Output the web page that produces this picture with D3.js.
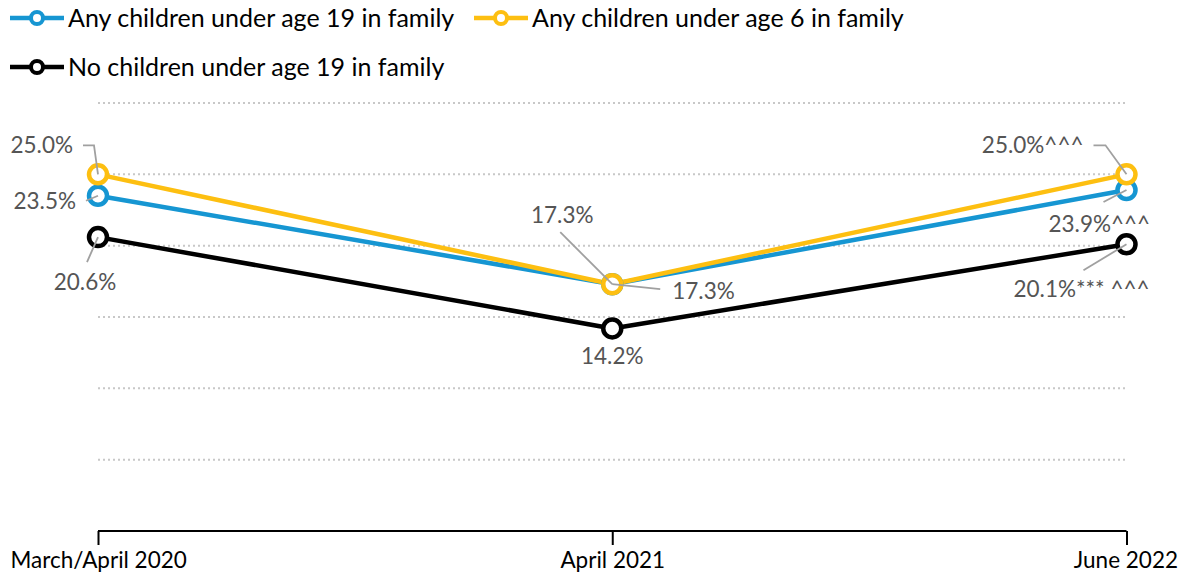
<!DOCTYPE html>
<html><head><meta charset="utf-8">
<script src="https://cdn.jsdelivr.net/npm/d3@7"></script>
<style>
body{margin:0;background:#fff;}
svg{display:block;font-family:Lato,"Noto Sans",sans-serif;}
</style></head>
<body>
<svg id="chart" width="1183" height="576"></svg>
<script>
const categories = ["March/April 2020","April 2021","June 2022"];
const seriesNames = ["Any children under age 19 in family","Any children under age 6 in family","No children under age 19 in family"];
const under19 = [23.5, 17.3, 23.9];
const under6 = [25.0, 17.3, 25.0];
const noChildren = [20.6, 14.2, 20.1];
const labels19 = ["23.5%","17.3%","23.9%^^^"];
const labels6 = ["25.0%","17.3%","25.0%^^^"];
const labelsNo = ["20.6%","14.2%","20.1%*** ^^^"];
const gridTicks = [5,10,15,20,25,30];

const colors = ["#1696d2","#fdbf11","#000000"];
// label layout: text offset from point, anchor, leader polyline offsets
const layout19 = [
  {dx:-22,dy:5,a:"end",lead:[[-12,5],[0,0]]},
  {dx:60,dy:7,a:"start",lead:[[48,5],[0,0]]},
  {dx:-78,dy:34,a:"start",lead:[[-23,12],[0,0]]}
];
const layout6 = [
  {dx:-25,dy:-29,a:"end",lead:[[-15,-29],[-4,-29],[0,0]]},
  {dx:-50,dy:-69,a:"middle",lead:[[-52,-52],[0,0]]},
  {dx:-43,dy:-29,a:"end",lead:[[-33,-29],[-21,-29],[0,0]]}
];
const layoutNo = [
  {dx:-13,dy:45,a:"middle",lead:[[-11,25],[0,0]]},
  {dx:0,dy:28,a:"middle",lead:null},
  {dx:-113,dy:45,a:"start",lead:[[-43,26],[0,0]]}
];

const series = [
  {name:seriesNames[0], values:under19, labels:labels19, layout:layout19, color:colors[0]},
  {name:seriesNames[1], values:under6, labels:labels6, layout:layout6, color:colors[1]},
  {name:seriesNames[2], values:noChildren, labels:labelsNo, layout:layoutNo, color:colors[2]}
];

const svg = d3.select("#chart");
const x = d3.scalePoint().domain(categories).range([98,1126.5]);
const y = d3.scaleLinear().domain([0,30]).range([531,103]);

// gridlines
svg.append("g").selectAll("line").data(gridTicks).join("line")
  .attr("x1",98).attr("x2",1127)
  .attr("y1",d=>y(d)).attr("y2",d=>y(d))
  .attr("stroke","#c8c8c8").attr("stroke-width",2).attr("stroke-dasharray","2,3");

// x axis
const ax = svg.append("g").attr("transform",`translate(0,${y(0)})`)
  .call(d3.axisBottom(x).tickSize(14).tickSizeOuter(0));
ax.select(".domain").attr("stroke","#000").attr("stroke-width",2).attr("d",`M98,0H1126.5`);
ax.selectAll(".tick line").attr("stroke","#000").attr("stroke-width",2);
ax.selectAll(".tick text").attr("font-size",22.5).attr("fill","#000").attr("font-family","Lato").attr("dy",0).attr("y",37);
ax.selectAll(".tick text").attr("text-anchor",(d,i)=> i===0?"start":(i===2?"end":"middle"))
  .attr("dx",(d,i)=> i===0?-88:(i===2?51:0));

// lines
const line = d3.line().x((d,i)=>x(categories[i])).y(d=>y(d));
const order = [2,0,1];
order.forEach(k=>{
  const s = series[k];
  svg.append("path").datum(s.values).attr("d",line)
    .attr("fill","none").attr("stroke",s.color).attr("stroke-width",4.5).attr("stroke-linejoin","round");
});
order.forEach(k=>{
  const s = series[k];
  svg.append("g").selectAll("circle").data(s.values).join("circle")
    .attr("cx",(d,i)=>x(categories[i])).attr("cy",d=>y(d)).attr("r",9)
    .attr("fill","#fff").attr("stroke",s.color).attr("stroke-width",4.5);
});

// labels
series.forEach(s=>{
  s.values.forEach((v,i)=>{
    const px = x(categories[i]), py = y(v), L = s.layout[i];
    if(L.lead){
      svg.append("polyline").attr("points",L.lead.map(p=>`${px+p[0]},${py+p[1]}`).join(" "))
        .attr("fill","none").attr("stroke","#a0a0a0").attr("stroke-width",1.8);
    }
    svg.append("text").attr("x",px+L.dx).attr("y",py+L.dy).attr("dy","0.35em")
      .attr("text-anchor",L.a).attr("font-size",22.5).attr("fill","#555")
      .text(s.labels[i]);
  });
});

// legend
const legendPos = [[10,18],[474,18],[10,67]];
series.forEach((s,k)=>{
  const [lx,ly] = legendPos[k];
  const g = svg.append("g").attr("transform",`translate(${lx},${ly})`);
  g.append("line").attr("x1",0).attr("x2",54).attr("y1",0).attr("y2",0).attr("stroke",s.color).attr("stroke-width",4.5);
  g.append("circle").attr("cx",27).attr("cy",0).attr("r",6).attr("fill","#fff").attr("stroke",s.color).attr("stroke-width",4);
  g.append("text").attr("x",58).attr("y",0).attr("dy","0.35em").attr("font-size",25).attr("fill","#000").text(s.name);
});
</script>
</body></html>
